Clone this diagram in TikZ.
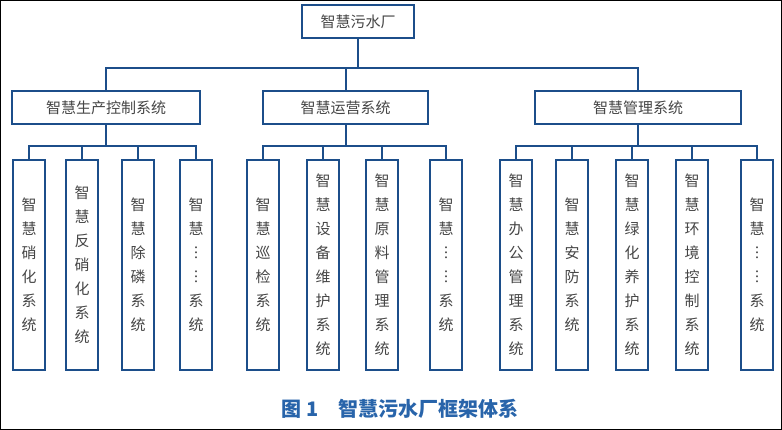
\documentclass[tikz,border=0pt]{standalone}
\usepackage{fontspec}
\newfontfamily\cjk{Noto Sans CJK SC}
\definecolor{ln}{RGB}{28,78,138}
\definecolor{tx}{RGB}{70,70,70}
\definecolor{cap}{RGB}{40,100,170}
\begin{document}
\begin{tikzpicture}[x=1pt,y=-1pt,
 box/.style={draw=ln,line width=1.6pt,fill=white,inner sep=0pt,font=\cjk\fontsize{15}{15}\selectfont,text=tx},
 leaf/.style={box,minimum width=32pt,minimum height=210pt,align=center,font=\cjk\fontsize{15}{24}\selectfont},
 con/.style={ln,line width=2pt}]
\useasboundingbox (0,0) rectangle (782,430);
\draw[black,line width=1pt] (0.5,0.5) rectangle (781.5,429.5);
\node[box,minimum width=112pt,minimum height=33pt] (r) at (358,21.5) {智慧污水厂};
\node[box,minimum width=188pt,minimum height=33pt] (a) at (106,107.5) {智慧生产控制系统};
\node[box,minimum width=165pt,minimum height=33pt] (b) at (345.5,107.5) {智慧运营系统};
\node[box,minimum width=206pt,minimum height=33pt] (c) at (638,107.5) {智慧管理系统};
\coordinate (j) at (358,68);
\draw[con] (r.south) -- (j);
\draw[con] (a.north) |- (j) -| (c.north);
\draw[con] (b.north) -- (b.north|-j);
\foreach \n/\x/\t in {a1/29/智\\慧\\硝\\化\\系\\统, a2/82/智\\慧\\反\\硝\\化\\系\\统, a3/138/智\\慧\\除\\磷\\系\\统, a4/196/智\\慧\\︙\\︙\\系\\统,
 b1/263/智\\慧\\巡\\检\\系\\统, b2/323/智\\慧\\设\\备\\维\\护\\系\\统, b3/382/智\\慧\\原\\料\\管\\理\\系\\统, b4/446/智\\慧\\︙\\︙\\系\\统,
 c1/516/智\\慧\\办\\公\\管\\理\\系\\统, c2/572/智\\慧\\安\\防\\系\\统, c3/632/智\\慧\\绿\\化\\养\\护\\系\\统, c4/692/智\\慧\\环\\境\\控\\制\\系\\统, c5/757/智\\慧\\︙\\︙\\系\\统}
 \node[leaf] (\n) at (\x,265) {\t};
\foreach \p/\f/\l/\k in {a/a1/a4/{a2,a3}, b/b1/b4/{b2,b3}, c/c1/c5/{c2,c3,c4}}{
 \coordinate (m\p) at ([yshift=-21pt]\p.south);
 \draw[con] (\p.south) -- (m\p);
 \draw[con] (\f.north) |- (m\p) -| (\l.north);
 \foreach \q in \k \draw[con] (\q.north) -- (\q.north|-m\p);
}
\node[font=\cjk\bfseries\fontsize{20}{20}\selectfont,text=cap] (t) at (400,409) {图 1\quad 智慧污水厂框架体系};
\end{tikzpicture}
\end{document}
